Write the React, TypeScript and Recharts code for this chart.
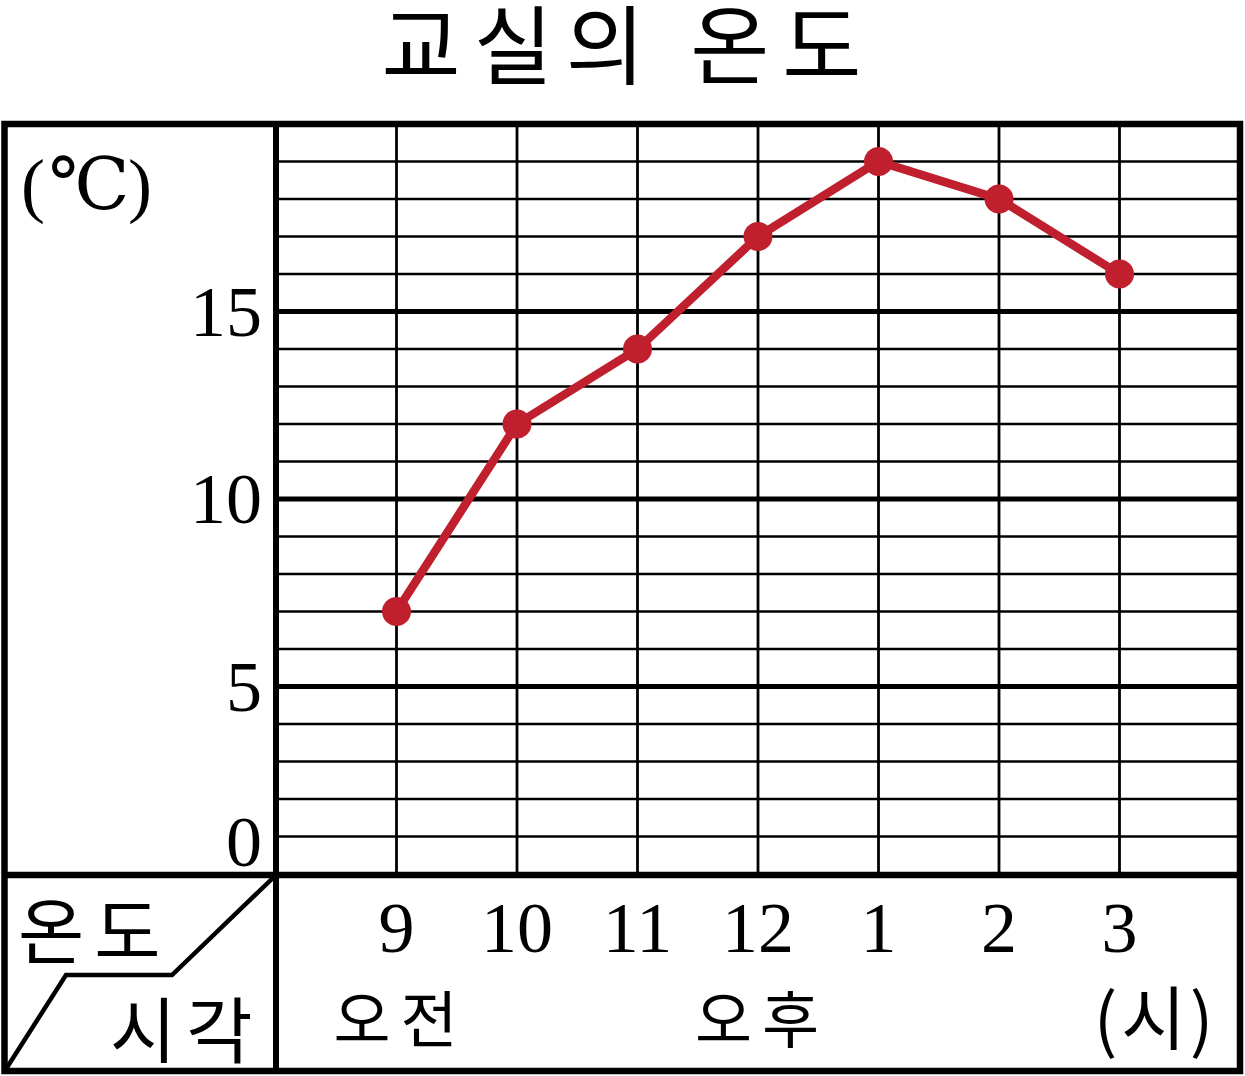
import { LineChart, Line, XAxis, YAxis, ReferenceLine } from "recharts";

// hours along the bottom, with the morning / afternoon marks under them
const hours = ["9", "10", "11", "12", "1", "2", "3"];
const periods = ["오전", "", "", "오후", "", "", ""];
const unitLabel = "(시)";
const temps = [7, 12, 14, 17, 19, 18, 16];

const yTicks = [0, 5, 10, 15];
const majorLines = [5, 10, 15];
const minorLines = [1, 2, 3, 4, 6, 7, 8, 9, 11, 12, 13, 14, 16, 17, 18, 19];
const xPositions = [1, 2, 3, 4, 5, 6, 7];

const data = hours.map((h, i) => ({ x: i + 1, hour: h, temp: temps[i] }));

const W = 1245;
const H = 1076;
const PLOT_LEFT = 276;
const PLOT_TOP = 124;
const PLOT_RIGHT = 1240;
const PLOT_BOTTOM = 874;
const RED = "#c0202e";
const SERIF = "'Liberation Serif', 'DejaVu Serif', serif";
const KO = "'Noto Sans CJK KR', 'Noto Sans', sans-serif";

function HourTick({ x, y, payload }: any) {
  const i = payload.value - 1;
  return (
    <g>
      <text x={x} y={y + 54} textAnchor="middle" dominantBaseline="central" fontFamily={SERIF} fontSize={72} fill="#000">
        {hours[i]}
      </text>
      {periods[i] ? (
        <text x={x + 4} y={y + 142} textAnchor="middle" dominantBaseline="central" fontFamily={KO} fontSize={62} fill="#000" letterSpacing={10}>
          {periods[i]}
        </text>
      ) : null}
      {i === hours.length - 1 ? (
        <text x={x + 36} y={y + 140} textAnchor="middle" dominantBaseline="central" fontFamily={KO} fontSize={70} fill="#000" letterSpacing={4}>
          {unitLabel}
        </text>
      ) : null}
    </g>
  );
}

function TempTick({ x, y, payload }: any) {
  const v = payload.value;
  return (
    <text
      x={x - 14}
      y={v === 0 ? y - 32 : y}
      textAnchor="end"
      dominantBaseline="central"
      fontFamily={SERIF}
      fontSize={72}
      fill="#000"
    >
      {v}
    </text>
  );
}

export default function App() {
  return (
    <div style={{ position: "absolute", left: 0, top: 0, width: W, height: H, background: "#fff" }}>
      <LineChart
        width={W}
        height={H}
        data={data}
        margin={{ top: PLOT_TOP, right: W - PLOT_RIGHT, bottom: 0, left: 0 }}
      >
        <XAxis
          type="number"
          dataKey="x"
          domain={[0, 8]}
          ticks={xPositions}
          interval={0}
          height={H - PLOT_BOTTOM}
          axisLine={false}
          tickLine={false}
          tickSize={0}
          tickMargin={0}
          tick={<HourTick />}
        />
        <YAxis
          type="number"
          domain={[0, 20]}
          ticks={yTicks}
          interval={0}
          width={PLOT_LEFT}
          axisLine={false}
          tickLine={false}
          tickSize={0}
          tickMargin={0}
          tick={<TempTick />}
        />
        {minorLines.map((v) => (
          <ReferenceLine key={`h${v}`} y={v} stroke="#000" strokeWidth={2.5} />
        ))}
        {xPositions.map((v) => (
          <ReferenceLine key={`v${v}`} x={v} stroke="#000" strokeWidth={2.8} />
        ))}
        {majorLines.map((v) => (
          <ReferenceLine key={`m${v}`} y={v} stroke="#000" strokeWidth={5} />
        ))}
        <Line
          type="linear"
          dataKey="temp"
          stroke={RED}
          strokeWidth={8.5}
          dot={{ r: 14.5, fill: RED, stroke: "none" }}
          activeDot={false}
          isAnimationActive={false}
        />
      </LineChart>

      {/* frame, corner box and fixed captions */}
      <svg width={W} height={H} style={{ position: "absolute", left: 0, top: 0, pointerEvents: "none" }}>
        <rect x={4.5} y={PLOT_TOP} width={PLOT_RIGHT - 4.5} height={1071 - PLOT_TOP} fill="none" stroke="#000" strokeWidth={6.5} />
        <line x1={PLOT_LEFT} y1={PLOT_TOP} x2={PLOT_LEFT} y2={1071} stroke="#000" strokeWidth={6} />
        <line x1={4.5} y1={875} x2={PLOT_RIGHT} y2={875} stroke="#000" strokeWidth={6.5} />
        <polyline points="276,875 172,975 66,975 6,1069" fill="none" stroke="#000" strokeWidth={4.5} strokeLinejoin="miter" />

        <text x={628} y={78} textAnchor="middle" fontFamily={KO} fontSize={86} letterSpacing={13} fill="#000">
          교실의 온도
        </text>
        <text x={33} y={185} textAnchor="middle" dominantBaseline="central" fontFamily={SERIF} fontSize={72} fill="#000">(</text>
        <text x={89} y={185} textAnchor="middle" dominantBaseline="central" fontFamily={SERIF} fontSize={72} fill="#000">℃</text>
        <text x={140} y={185} textAnchor="middle" dominantBaseline="central" fontFamily={SERIF} fontSize={72} fill="#000">)</text>
        <text x={18} y={926} dominantBaseline="central" fontFamily={KO} fontSize={72} letterSpacing={10} fill="#000">
          온도
        </text>
        <text x={110} y={1025} dominantBaseline="central" fontFamily={KO} fontSize={72} letterSpacing={10} fill="#000">
          시각
        </text>
      </svg>
    </div>
  );
}
